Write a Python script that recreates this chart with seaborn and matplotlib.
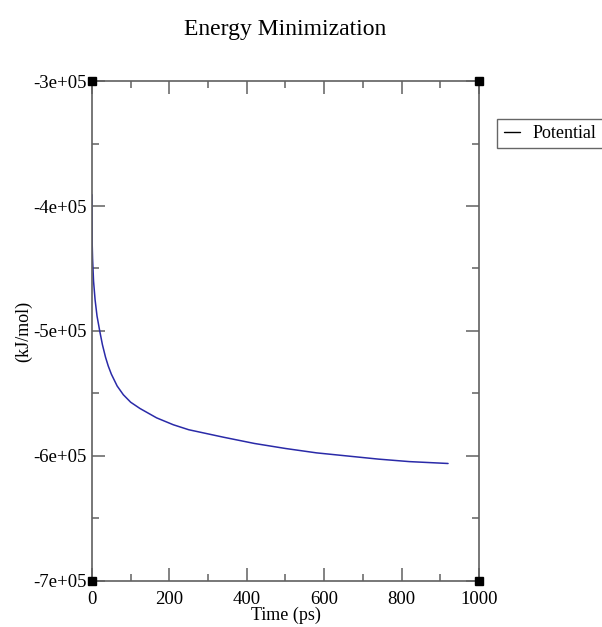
import matplotlib
matplotlib.use("Agg")
import matplotlib.pyplot as plt
import matplotlib.ticker as mticker
import seaborn as sns
import pandas as pd

# Data
time_ps = [0, 0.5, 1.5, 4, 8, 13, 20, 27, 35, 42, 50, 65, 81, 100, 124, 167,
           210, 250, 340, 420, 500, 580, 660, 740, 820, 920]
potential = [-3.91e5, -4.30e5, -4.42e5, -4.60e5, -4.75e5, -4.88e5, -5.00e5,
             -5.11e5, -5.21e5, -5.28e5, -5.345e5, -5.44e5, -5.51e5, -5.57e5,
             -5.62e5, -5.695e5, -5.75e5, -5.79e5, -5.85e5, -5.90e5, -5.94e5,
             -5.975e5, -6.00e5, -6.025e5, -6.045e5, -6.06e5]
series_name = "Potential"
title = "Energy Minimization"
xlabel = "Time (ps)"
ylabel = "(kJ/mol)"
x_ticks = [0, 200, 400, 600, 800, 1000]
y_ticks = [-7e5, -6e5, -5e5, -4e5, -3e5]

df = pd.DataFrame({"Time": time_ps, "Energy": potential, "Series": series_name})

sns.set_style("ticks")
plt.rcParams["font.family"] = ["Liberation Serif", "DejaVu Serif"]
plt.rcParams["text.color"] = "black"
plt.rcParams["axes.labelcolor"] = "black"
plt.rcParams["xtick.labelcolor"] = "black"
plt.rcParams["ytick.labelcolor"] = "black"

fig = plt.figure(figsize=(6.02, 6.27), dpi=100)
ax = fig.add_axes([0.1528, 0.0734, 0.6429, 0.7974])

sns.lineplot(data=df, x="Time", y="Energy", hue="Series", palette=["#2a2aa8"],
             linewidth=1.1, ax=ax, legend=True)

ax.set_xlim(0, 1000)
ax.set_ylim(-7e5, -3e5)
ax.set_xticks(x_ticks)
ax.set_yticks(y_ticks)
ax.xaxis.set_minor_locator(mticker.MultipleLocator(100))
ax.yaxis.set_minor_locator(mticker.MultipleLocator(5e4))
ax.yaxis.set_major_formatter(mticker.FuncFormatter(lambda v, p: "%.0e" % v))

spine_col = "#606060"
for s in ax.spines.values():
    s.set_visible(True)
    s.set_color(spine_col)
    s.set_linewidth(1.2)
ax.tick_params(which="both", direction="in", top=True, right=True,
               color=spine_col, width=1.1, labelsize=13.5)
ax.tick_params(axis="x", which="both", pad=7)
ax.tick_params(axis="y", which="both", pad=4)
ax.tick_params(which="major", length=9.5)
ax.tick_params(which="minor", length=5)

ax.set_xlabel(xlabel, fontsize=13, labelpad=-1)
ax.set_ylabel(ylabel, fontsize=13, labelpad=0.5)
fig.text(0.4734, 0.953, title, fontsize=17, ha="center", va="center")

# corner squares (Grace-style)
for cx, cy in [(0, 0), (1, 0), (0, 1), (1, 1)]:
    ax.plot([cx], [cy], marker="s", markersize=6, color="black",
            transform=ax.transAxes, clip_on=False, zorder=5)

leg = ax.legend(loc="upper left", bbox_to_anchor=(1.047, 0.925), fontsize=13,
                frameon=True, fancybox=False, handlelength=0.9,
                handletextpad=0.7, borderpad=0.35, borderaxespad=0)
leg.get_frame().set_edgecolor("#404040")
leg.get_frame().set_linewidth(1.0)
for h in leg.get_lines():
    h.set_color("black")
    h.set_linewidth(1.0)

fig.savefig("out.png", dpi=100)
